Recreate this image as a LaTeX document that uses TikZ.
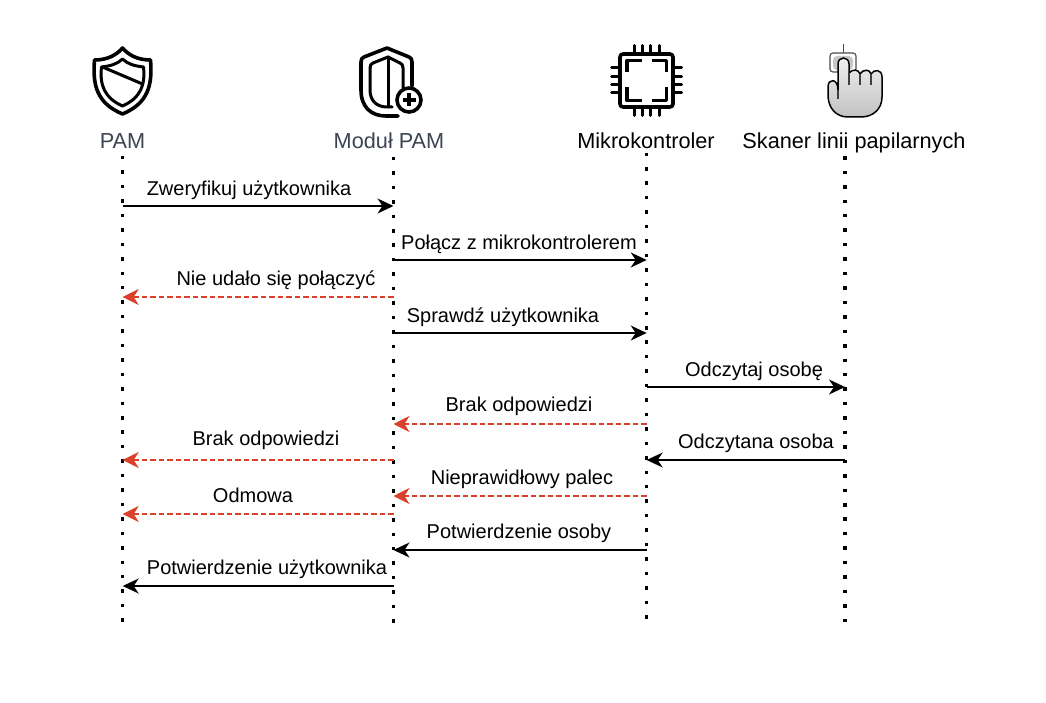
\documentclass[tikz,border=0pt]{standalone}
\usepackage{fontspec}
\setmainfont{Liberation Sans}
\usetikzlibrary{arrows.meta}
\definecolor{slateT}{HTML}{3D4454}
\definecolor{redL}{HTML}{D9412B}
\tikzset{
 x=1pt,y=-1pt,
 lifeline/.style={line width=3.5pt,dash pattern=on 3.5pt off 10.95pt},
 msg/.style={line width=1.5pt,black,-{Stealth[length=16pt,width=15pt,inset=5pt]}},
 errmsg/.style={line width=1.4pt,redL,dash pattern=on 5.5pt off 3pt,-{Stealth[length=16pt,width=16pt,inset=5pt]}},
 lbl/.style={font=\fontsize{20}{22}\selectfont,inner sep=0pt,anchor=base,text=black},
 head/.style={font=\fontsize{21.7}{24}\selectfont,inner sep=0pt,anchor=base},
 icon/.style={line width=3pt,black,line join=round,line cap=round},
 iconb/.style={line width=3.6pt,black,line join=round,line cap=round},
}
\begin{document}
\begin{tikzpicture}
\useasboundingbox (0,0) rectangle (1046,703);
\fill[white] (0,0) rectangle (1046,703);
% head labels
\node[head,text=slateT] (hPam) at (122.5,149) {PAM};
\node[head,text=slateT] (hMod) at (389,149) {Moduł PAM};
\node[head] (hMik) at (646,149) {Mikrokontroler};
\node[head] (hSk) at (854,149) {Skaner linii papilarnych};
% lifelines
\coordinate (a0) at (122.7,155.9); \coordinate (a1) at (122.7,622);
\coordinate (b0) at (393.5,156.8); \coordinate (b1) at (393.5,623);
\coordinate (c0) at (646.7,152.6); \coordinate (c1) at (646.7,619);
\coordinate (d0) at (845,156.2); \coordinate (d1) at (845,622);
\draw[lifeline] (a0)--(a1);
\draw[lifeline] (b0)--(b1);
\draw[lifeline] (c0)--(c1);
\draw[lifeline] (d0)--(d1);
% PAM shield
\begin{scope}[shift={(122.5,0)}]
\draw[iconb] (0,48) .. controls (-6,55) and (-15,60) .. (-28,60)
 .. controls (-30,85) and (-26,103) .. (0,114)
 .. controls (26,103) and (30,85) .. (28,60)
 .. controls (15,60) and (6,55) .. (0,48) -- cycle;
\draw[icon] (0,59) .. controls (-5,64) and (-12,66) .. (-21,67)
 .. controls (-23,85) and (-18,98) .. (0,106)
 .. controls (18,98) and (23,85) .. (21,67)
 .. controls (12,66) and (5,64) .. (0,59) -- cycle;
\draw[icon] (-20,67) -- (20,84);
\end{scope}
% Module shield
\draw[iconb] (361,62) .. controls (361,59) and (362,58) .. (364,57) -- (387,48) -- (409,57) .. controls (411,58) and (412,59) .. (412,62) -- (412,86);
\draw[iconb] (361,62) -- (361,90) .. controls (361,107) and (371,116) .. (386,116) -- (398,116);
\draw[icon] (370,68) .. controls (370,65) and (371,64) .. (373,63) -- (388,57) -- (400,63) .. controls (402,64) and (403,65) .. (403,68) -- (403,88);
\draw[icon] (370,68) -- (370,90) .. controls (370,100) and (376,107) .. (387,107) -- (392,107);
\draw[icon] (388,57) -- (388,107);
\draw[iconb,fill=white] (409,100) circle (12);
\draw[line width=3.4pt] (402.5,100) -- (415.5,100) (409,93.5) -- (409,106.5);
% Chip
\begin{scope}[shift={(646.5,80.5)}]
\draw[iconb,rounded corners=3pt] (-26.5,-26.5) rectangle (26.5,26.5);
\foreach \u in {-12.5,-4,4,12.5}{
 \draw[icon] (\u,-35) -- (\u,-26.5);
 \draw[icon] (\u,26.5) -- (\u,35);
 \draw[icon] (-35,\u) -- (-26.5,\u);
 \draw[icon] (26.5,\u) -- (35,\u);
}
\draw[iconb,line cap=butt] (-19.5,-8.5) -- (-19.5,-20) -- (-5,-20);
\draw[iconb,line cap=butt] (5,-20) -- (20,-20) -- (20,-8.5);
\draw[iconb,line cap=butt] (20,6.5) -- (20,20) -- (5,20);
\draw[iconb,line cap=butt] (-5,20) -- (-19.5,20) -- (-19.5,6.5);
\end{scope}
% Finger
\draw[line width=.8pt,black!70] (843,44) -- (843,53);
\draw[line width=1.1pt,draw=black!70,fill=white,rounded corners=3pt] (830,53) rectangle (856,72);
\fill[black!22,rounded corners=4pt] (833,56) rectangle (853,70);
\shade[top color=black!6,bottom color=black!24,draw=black,line width=1.5pt]
 (838,90) -- (838,64) .. controls (838,56) and (849,56) .. (849,64) -- (849,73)
 .. controls (852,69) and (859,69) .. (860,74) .. controls (863,69) and (870,69) .. (871,74)
 .. controls (874,69) and (882,69) .. (882,77) -- (882,97)
 .. controls (882,109) and (873,117) .. (861,117) -- (848,117)
 .. controls (836,117) and (828,108) .. (828,95) -- (828,87)
 .. controls (828,78) and (838,78) .. (838,90) -- cycle;
\draw[line width=1.4pt,black!75] (838,90) -- (838,99);
\draw[line width=1.8pt,black!75] (849,73) -- (849,85) (860,74) -- (860,85) (871,74) -- (871,85);
% anchors on lifelines
\coordinate (p1a) at (122.7,206); \coordinate (p1b) at (393.5,206);
\coordinate (p2b) at (393.5,260); \coordinate (p2c) at (646.7,260);
\coordinate (p3b) at (393.5,297); \coordinate (p3a) at (122.7,297);
\coordinate (p4b) at (393.5,333); \coordinate (p4c) at (646.7,333);
\coordinate (p5c) at (646.7,387); \coordinate (p5d) at (845,387);
\coordinate (p6c) at (646.7,424); \coordinate (p6b) at (393.5,424);
\coordinate (p7b) at (393.5,460); \coordinate (p7a) at (122.7,460);
\coordinate (p8d) at (845,460); \coordinate (p8c) at (646.7,460);
\coordinate (p9c) at (646.7,496); \coordinate (p9b) at (393.5,496);
\coordinate (p10b) at (393.5,514); \coordinate (p10a) at (122.7,514);
\coordinate (p11c) at (646.7,550); \coordinate (p11b) at (393.5,550);
\coordinate (p12b) at (393.5,586); \coordinate (p12a) at (122.7,586);
\draw[msg] (p1a)--(p1b);
\draw[msg] (p2b)--(p2c);
\draw[errmsg] (p3b)--(p3a);
\draw[msg] (p4b)--(p4c);
\draw[msg] (p5c)--(p5d);
\draw[errmsg] (p6c)--(p6b);
\draw[errmsg] (p7b)--(p7a);
\draw[msg] (p8d)--(p8c);
\draw[errmsg] (p9c)--(p9b);
\draw[errmsg] (p10b)--(p10a);
\draw[msg] (p11c)--(p11b);
\draw[msg] (p12b)--(p12a);
% labels
\node[lbl] (t1) at (249,196) {Zweryfikuj użytkownika};
\node[lbl] (t2) at (519,250) {Połącz z mikrokontrolerem};
\node[lbl] (t3) at (276,285) {Nie udało się połączyć};
\node[lbl] (t4) at (503,322) {Sprawdź użytkownika};
\node[lbl] (t5) at (754,376) {Odczytaj osobę};
\node[lbl] (t6) at (519,411) {Brak odpowiedzi};
\node[lbl] (t7) at (266,445) {Brak odpowiedzi};
\node[lbl] (t8) at (756,448) {Odczytana osoba};
\node[lbl] (t9) at (522,484) {Nieprawidłowy palec};
\node[lbl] (t10) at (253,502) {Odmowa};
\node[lbl] (t11) at (519,538) {Potwierdzenie osoby};
\node[lbl] (t12) at (267,574) {Potwierdzenie użytkownika};
\end{tikzpicture}
\end{document}
